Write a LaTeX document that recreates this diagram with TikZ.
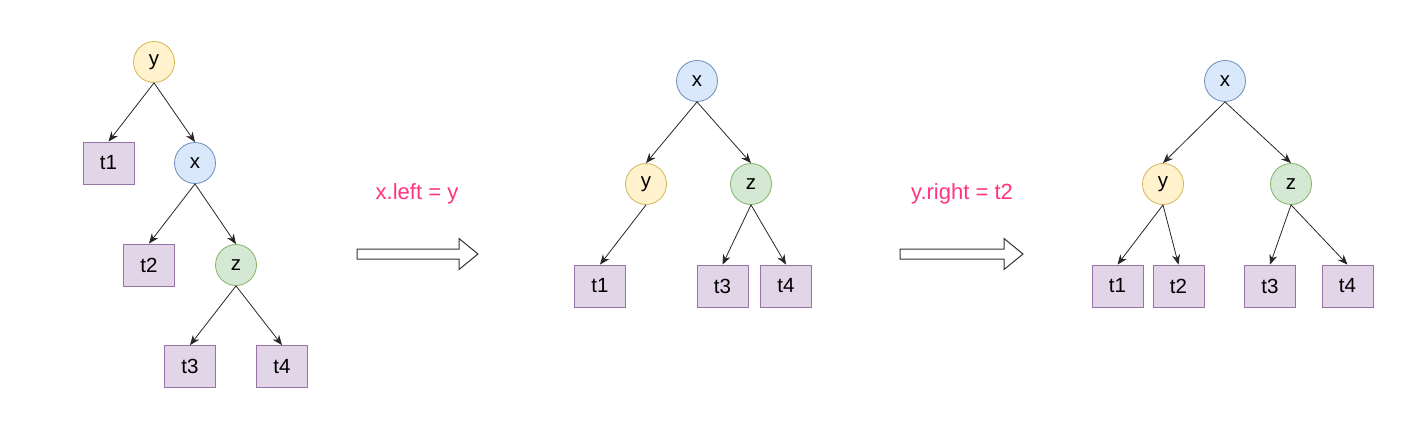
\documentclass[tikz,border=0pt]{standalone}
\usepackage{fontspec}
\setmainfont{Liberation Sans}
\usepackage{tikz}
\usetikzlibrary{arrows.meta,shapes,positioning}

\definecolor{yfill}{HTML}{FFF2CC}
\definecolor{ydraw}{HTML}{D6B656}
\definecolor{xfill}{HTML}{DAE8FC}
\definecolor{xdraw}{HTML}{6C8EBF}
\definecolor{zfill}{HTML}{D5E8D4}
\definecolor{zdraw}{HTML}{82B366}
\definecolor{tfill}{HTML}{E1D5E7}
\definecolor{tdraw}{HTML}{9673A6}
\definecolor{opcol}{HTML}{FF3380}

\tikzset{
  every node/.style={font=\fontsize{20.5}{24}\selectfont},
  knot/.style={circle, draw, line width=0.8pt, minimum size=41pt, inner sep=0pt},
  ynode/.style={knot, fill=yfill, draw=ydraw},
  xnode/.style={knot, fill=xfill, draw=xdraw},
  znode/.style={knot, fill=zfill, draw=zdraw},
  leaf/.style={rectangle, draw=tdraw, fill=tfill, line width=0.8pt,
    minimum width=51pt, minimum height=42pt, inner sep=0pt},
  edge/.style={-{Stealth[length=10pt,width=8pt]}, line width=0.8pt, draw=black!85},
  oplabel/.style={text=opcol, font=\fontsize{22}{26}\selectfont},
  fatarrow/.style={draw=black!80, line width=1pt, fill=white}
}

\begin{document}
\begin{tikzpicture}[x=1pt,y=-1pt]
  \useasboundingbox (0,0) rectangle (1423,434);

  % before
  \node[ynode] (ay) at (154,62) {y};
  \node[leaf]  (at1) at (108.5,163) {t1};
  \node[xnode] (ax) at (195,163) {x};
  \node[leaf]  (at2) at (149,265) {t2};
  \node[znode] (az) at (236,265) {z};
  \node[leaf]  (at3) at (190,366.5) {t3};
  \node[leaf]  (at4) at (282,366.5) {t4};
  \draw[edge] (ay.south) -- (at1.north);
  \draw[edge] (ay.south) -- (ax.north);
  \draw[edge] (ax.south) -- (at2.north);
  \draw[edge] (ax.south) -- (az.north);
  \draw[edge] (az.south) -- (at3.north);
  \draw[edge] (az.south) -- (at4.north);

  % step 1
  \node[oplabel] (op1) at (417,194) {x.left = y};
  \draw[fatarrow] (357,249) -- (459,249) -- (459,238.5) -- (478,254)
    -- (459,269.5) -- (459,259) -- (357,259) -- cycle;

  % middle
  \node[xnode] (bx) at (697,81) {x};
  \node[ynode] (by) at (646,184) {y};
  \node[znode] (bz) at (751,184) {z};
  \node[leaf]  (bt1) at (600,286) {t1};
  \node[leaf]  (bt3) at (722.5,286) {t3};
  \node[leaf]  (bt4) at (786,286) {t4};
  \draw[edge] (bx.south) -- (by.north);
  \draw[edge] (bx.south) -- (bz.north);
  \draw[edge] (by.south) -- (bt1.north);
  \draw[edge] (bz.south) -- (bt3.north);
  \draw[edge] (bz.south) -- (bt4.north);

  % step 2
  \node[oplabel] (op2) at (962,194) {y.right = t2};
  \draw[fatarrow] (900,249) -- (1004,249) -- (1004,238.5) -- (1023,254)
    -- (1004,269.5) -- (1004,259) -- (900,259) -- cycle;

  % after
  \node[xnode] (cx) at (1225,81) {x};
  \node[ynode] (cy) at (1163,184) {y};
  \node[znode] (cz) at (1291,184) {z};
  \node[leaf]  (ct1) at (1117.5,286) {t1};
  \node[leaf]  (ct2) at (1178.5,286) {t2};
  \node[leaf]  (ct3) at (1270,286) {t3};
  \node[leaf]  (ct4) at (1347.5,286) {t4};
  \draw[edge] (cx.south) -- (cy.north);
  \draw[edge] (cx.south) -- (cz.north);
  \draw[edge] (cy.south) -- (ct1.north);
  \draw[edge] (cy.south) -- (ct2.north);
  \draw[edge] (cz.south) -- (ct3.north);
  \draw[edge] (cz.south) -- (ct4.north);
\end{tikzpicture}
\end{document}
